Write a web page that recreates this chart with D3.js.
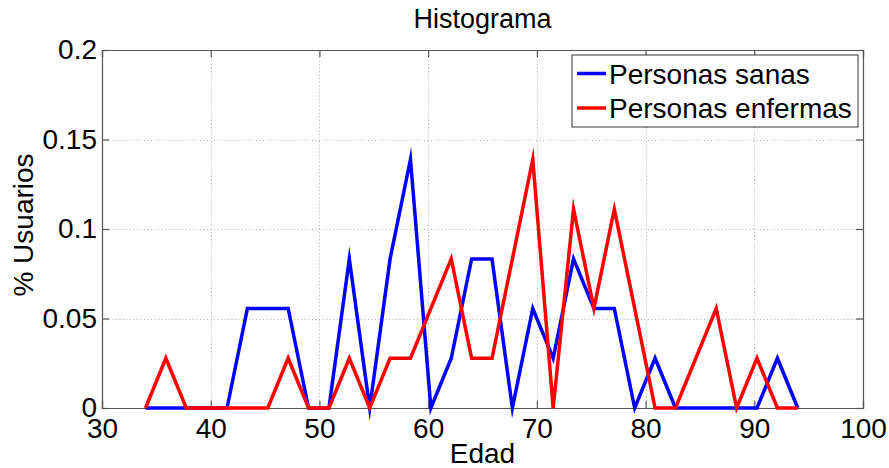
<!DOCTYPE html>
<html>
<head>
<meta charset="utf-8">
<script src="https://cdn.jsdelivr.net/npm/d3@7"></script>
<style>
  html, body { margin: 0; padding: 0; background: #fff; }
  svg { display: block; }
  text { font-family: "Liberation Sans", Arial, Helvetica, sans-serif; fill: #000; }
</style>
</head>
<body>
<svg id="chart" width="889" height="468"></svg>
<script>
// ---- data ----
const title = "Histograma";
const xLabel = "Edad";
const yLabel = "% Usuarios";
const seriesNames = ["Personas sanas", "Personas enfermas"];
const seriesColors = ["#0000ff", "#ff0000"];
const ages = [34, 35.875, 37.75, 39.625, 41.5, 43.375, 45.25, 47.125, 49, 50.875,
  52.75, 54.625, 56.5, 58.375, 60.25, 62.125, 64, 65.875, 67.75, 69.625, 71.5,
  73.375, 75.25, 77.125, 79, 80.875, 82.75, 84.625, 86.5, 88.375, 90.25, 92.125, 94];
const sanas = [0, 0, 0, 0, 0, 0.0556, 0.0556, 0.0556, 0, 0, 0.0833, 0, 0.0833, 0.1389,
  0, 0.0278, 0.0833, 0.0833, 0, 0.0556, 0.0278, 0.0833, 0.0556, 0.0556, 0, 0.0278,
  0, 0, 0, 0, 0, 0.0278, 0];
const enfermas = [0, 0.0278, 0, 0, 0, 0, 0, 0.0278, 0, 0, 0.0278, 0, 0.0278, 0.0278,
  0.0556, 0.0833, 0.0278, 0.0278, 0.0833, 0.1389, 0, 0.1111, 0.0556, 0.1111, 0.0556,
  0, 0, 0.0278, 0.0556, 0, 0.0278, 0, 0];
const xTicks = [30, 40, 50, 60, 70, 80, 90, 100];
const yTicks = [0, 0.05, 0.1, 0.15, 0.2];
const yTickLabels = ["0", "0.05", "0.1", "0.15", "0.2"];

// ---- layout ----
const svg = d3.select("#chart");
const L = 102, R = 863, T = 50, B = 408;
const x = d3.scaleLinear().domain([30, 100]).range([L, R]);
const y = d3.scaleLinear().domain([0, 0.2]).range([B, T]);
const axisColor = "#555";

// grid
const grid = svg.append("g").attr("stroke", "#b0b0b0").attr("stroke-width", 1)
  .attr("stroke-dasharray", "1,2.5");
xTicks.slice(1, -1).forEach(t => {
  grid.append("line").attr("x1", Math.round(x(t)) + 0.5).attr("x2", Math.round(x(t)) + 0.5)
    .attr("y1", T).attr("y2", B);
});
yTicks.slice(1, -1).forEach(t => {
  grid.append("line").attr("y1", Math.round(y(t)) + 0.5).attr("y2", Math.round(y(t)) + 0.5)
    .attr("x1", L).attr("x2", R);
});

// axes with inward ticks
const tk = 7;
const axB = svg.append("g").attr("transform", `translate(0,${B})`)
  .call(d3.axisBottom(x).tickValues(xTicks).tickSize(-tk).tickPadding(10).tickFormat(d3.format("d")));
const axT = svg.append("g").attr("transform", `translate(0,${T})`)
  .call(d3.axisTop(x).tickValues(xTicks).tickSize(-tk).tickFormat(""));
const axL = svg.append("g").attr("transform", `translate(${L},0)`)
  .call(d3.axisLeft(y).tickValues(yTicks).tickSize(-tk).tickPadding(5)
    .tickFormat((d, i) => yTickLabels[i]));
const axR = svg.append("g").attr("transform", `translate(${R},0)`)
  .call(d3.axisRight(y).tickValues(yTicks).tickSize(-tk).tickFormat(""));
[axB, axT, axL, axR].forEach(a => {
  a.select(".domain").attr("stroke", axisColor).attr("stroke-width", 1.2);
  a.selectAll(".tick line").attr("stroke", axisColor).attr("stroke-width", 1.2);
  a.selectAll("text").attr("font-size", 28).attr("font-family", "Liberation Sans, Arial, sans-serif").attr("fill", "#000");
});

// lines
const line = d3.line().x((d, i) => x(ages[i])).y(d => y(d));
const plot = svg.append("g");
[sanas, enfermas].forEach((s, k) => {
  plot.append("path").datum(s).attr("d", line).attr("fill", "none")
    .attr("stroke", seriesColors[k]).attr("stroke-width", 3.5)
    .attr("stroke-linejoin", "miter").attr("stroke-miterlimit", 10);
});

// title & labels
svg.append("text").attr("x", (L + R) / 2).attr("y", 28).attr("text-anchor", "middle")
  .attr("font-size", 27).text(title);
svg.append("text").attr("x", (L + R) / 2).attr("y", 463).attr("text-anchor", "middle")
  .attr("font-size", 28).text(xLabel);
svg.append("text").attr("transform", "translate(33,225) rotate(-90)").attr("text-anchor", "middle")
  .attr("font-size", 28).text(yLabel);

// legend
const lg = svg.append("g");
lg.append("rect").attr("x", 572).attr("y", 55).attr("width", 286).attr("height", 72)
  .attr("fill", "#fff").attr("stroke", "#333").attr("stroke-width", 1);
seriesNames.forEach((n, k) => {
  const yy = 73.5 + k * 34.5;
  lg.append("line").attr("x1", 577).attr("x2", 606).attr("y1", yy).attr("y2", yy)
    .attr("stroke", seriesColors[k]).attr("stroke-width", 3.5);
  lg.append("text").attr("x", 609).attr("y", 83.5 + k * 34.5).attr("font-size", 28).text(n);
});
</script>
</body>
</html>
